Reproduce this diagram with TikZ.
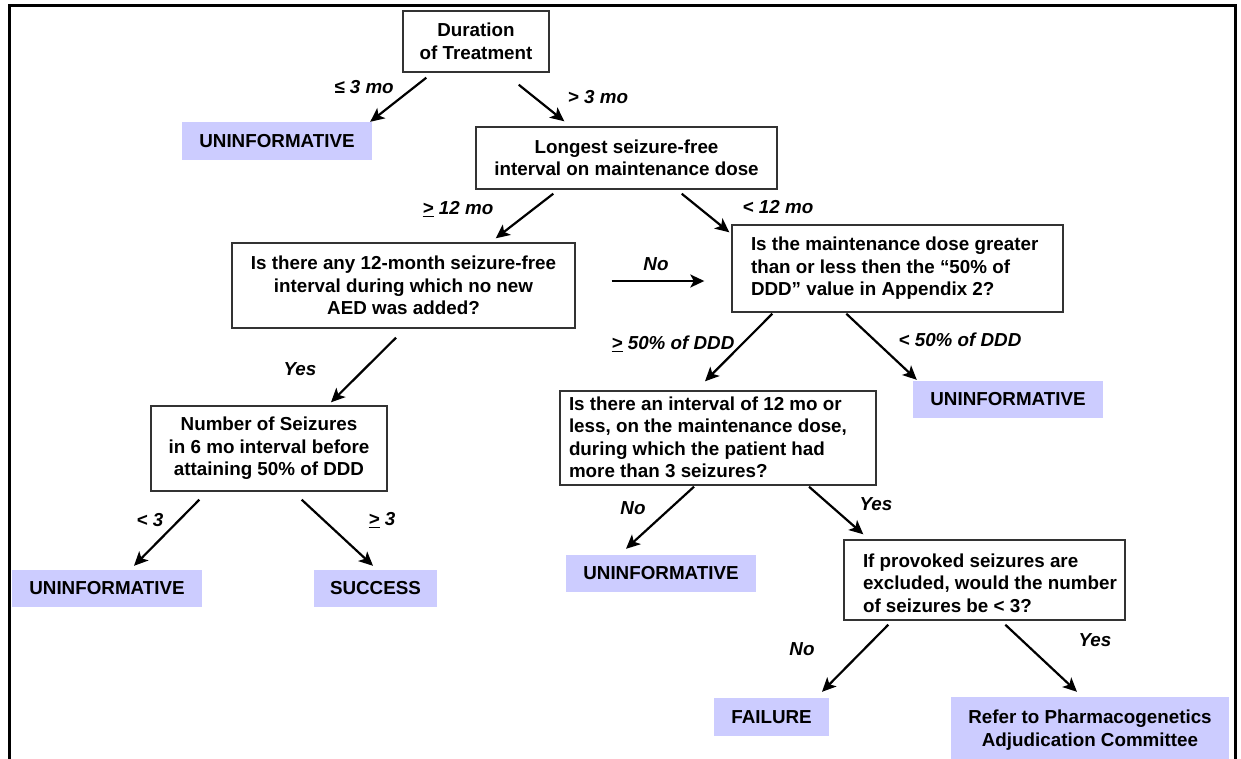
\documentclass[tikz,border=0pt]{standalone}
\usepackage{fontspec}
\setmainfont{Liberation Sans}
\usetikzlibrary{arrows.meta,calc}
\definecolor{outc}{HTML}{CCCCFF}
\definecolor{bord}{HTML}{333333}
\newcommand{\lefttext}[3]{\makebox[#1][l]{\hspace*{#2}\begin{tabular}{@{}l@{}}#3\end{tabular}}}
\newcommand{\lowered}[2]{\raisebox{-#1}[\height][\depth]{#2}}
\begin{document}
\begin{tikzpicture}[x=1pt,y=-1pt,
  every node/.style={font=\fontsize{18.8}{22.5}\selectfont\bfseries},
  qbox/.style={draw=bord, line width=1.4pt, fill=white, inner sep=0pt, align=center},
  obox/.style={fill=outc, inner sep=0pt, align=center},
  lab/.style={font=\fontsize{18.8}{22.5}\selectfont\bfseries\itshape, inner sep=0pt},
  arr/.style={line width=2.2pt, -{Stealth[length=14pt,width=13pt,inset=3.5pt]}},
  frame/.style={line width=3pt}]
\useasboundingbox (0,0) rectangle (1241,758);
\fill[white] (0,0) rectangle (1241,758);
\draw[frame] (9,765) -- (9,5) -- (1235,5) -- (1235,765);

% question boxes
\node[qbox, minimum width=146pt, minimum height=61pt] (dur) at (476,41.5) {\lowered{2pt}{\begin{tabular}{@{}c@{}}Duration\\of Treatment\end{tabular}}};
\node[qbox, minimum width=301pt, minimum height=62pt] (long) at (626.5,158) {Longest seizure-free\\interval on maintenance dose};
\node[qbox, minimum width=343pt, minimum height=85pt] (q12) at (403.5,285.5) {Is there any 12-month seizure-free\\interval during which no new\\AED was added?};
\node[qbox, minimum width=331pt, minimum height=87pt] (qdose) at (897.5,268.5) {\lefttext{331pt}{19pt}{Is the maintenance dose greater\\than or less then the “50\% of\\DDD” value in Appendix 2?}};
\node[qbox, minimum width=236pt, minimum height=85pt] (nsz) at (269,448.5) {Number of Seizures\\in 6 mo interval before\\attaining 50\% of DDD};
\node[qbox, minimum width=316pt, minimum height=94pt] (qint) at (718,438) {\lowered{1.5pt}{\lefttext{316pt}{9pt}{Is there an interval of 12 mo or\\less, on the maintenance dose,\\during which the patient had\\more than 3 seizures?}}};
\node[qbox, minimum width=281pt, minimum height=80pt] (qprov) at (984.5,580) {\lowered{5pt}{\lefttext{281pt}{19pt}{If provoked seizures are\\excluded, would the number\\of seizures be < 3?}}};

% outcome boxes
\node[obox, minimum width=190pt, minimum height=38pt] (u1) at (277,141) {UNINFORMATIVE};
\node[obox, minimum width=190pt, minimum height=37pt] (u2) at (107,588.5) {UNINFORMATIVE};
\node[obox, minimum width=123pt, minimum height=37pt] (succ) at (375.5,588.5) {SUCCESS};
\node[obox, minimum width=190pt, minimum height=37pt] (u3) at (1008,399.5) {UNINFORMATIVE};
\node[obox, minimum width=190pt, minimum height=37pt] (u4) at (661,573.5) {UNINFORMATIVE};
\node[obox, minimum width=115pt, minimum height=38pt] (fail) at (771.5,717) {FAILURE};
\node[obox, minimum width=278pt, minimum height=66pt] (refer) at (1090,730) {Refer to Pharmacogenetics\\Adjudication Committee};

% connectors
\draw[arr] ($(dur.south west)+(24,5)$) -- ($(u1.north east)+(-2,0)$);
\draw[arr] ($(dur.south east)+(-31,12)$) -- ($(long.north west)+(89,-5)$);
\draw[arr] ($(long.south west)+(78,4)$) -- ($(q12.north east)+(-80,-4)$);
\draw[arr] ($(long.south east)+(-96,4)$) -- ($(qdose.north west)+(-2,8)$);
\draw[arr] ($(q12.east)+(36,-4.5)$) -- ($(qdose.west)+(-27,12.5)$);
\draw[arr] ($(q12.south)+(-7.5,9)$) -- ($(nsz.north)+(62,-3)$);
\draw[arr] ($(qdose.south west)+(41,1)$) -- ($(qint.north)+(-13,-9)$);
\draw[arr] ($(qdose.south west)+(115,1)$) -- ($(u3.north west)+(4,-1)$);
\draw[arr] ($(nsz.south west)+(49,8)$) -- ($(u2.north)+(27,-4)$);
\draw[arr] ($(nsz.south east)+(-86,8)$) -- ($(succ.north)+(-2.5,-4)$);
\draw[arr] ($(qint.south)+(-24,1)$) -- ($(u4.north)+(-35,-6)$);
\draw[arr] ($(qint.south)+(91,1)$) -- ($(qprov.north west)+(20,-5)$);
\draw[arr] ($(qprov.south west)+(45,4)$) -- ($(fail.north)+(50.5,-6)$);
\draw[arr] ($(qprov.south west)+(162,4)$) -- ($(refer.north)+(-13,-5)$);

% labels
\node[lab] (l1) at (364,87) {≤ 3 mo};
\node[lab] (l2) at (598,97) {> 3 mo};
\node[lab] (l3) at (458,209) {\underline{>} 12 mo};
\node[lab] (l4) at (778,207) {< 12 mo};
\node[lab] (l5) at (656,264) {No};
\node[lab] (l6) at (300,369) {Yes};
\node[lab] (l7) at (673,344) {\underline{>} 50\% of DDD};
\node[lab] (l8) at (960,340) {< 50\% of DDD};
\node[lab] (l9) at (150,520) {< 3};
\node[lab] (l10) at (382,520) {\underline{>} 3};
\node[lab] (l11) at (633,508) {No};
\node[lab] (l12) at (876,504) {Yes};
\node[lab] (l13) at (802,649) {No};
\node[lab] (l14) at (1095,640) {Yes};
\end{tikzpicture}
\end{document}
